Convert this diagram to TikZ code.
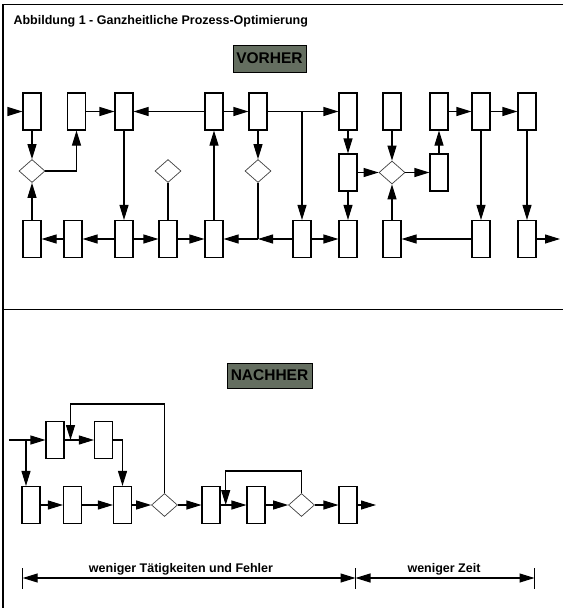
\documentclass[tikz,border=0pt]{standalone}
\usepackage{fontspec}
\setmainfont{Liberation Sans}
\usepackage{xcolor}
\usepackage{tikz}
\usetikzlibrary{arrows.meta,positioning,shapes.geometric}
\definecolor{tafelgrau}{RGB}{100,110,96}

\begin{document}
\begin{tikzpicture}[x=1pt,y=-1pt,
  every node/.style={font=\bfseries\fontsize{12.5}{15}\selectfont},
  box/.style={draw,line width=1.1pt,minimum width=18pt,minimum height=37pt,
              inner sep=0pt,fill=white},
  dec/.style={diamond,draw=black!75,line width=0.7pt,minimum width=26pt,
              minimum height=23pt,inner sep=0pt,fill=white},
  arr/.style={line width=1.1pt,-{Triangle[length=15pt,width=9pt]}},
  lin/.style={line width=1.1pt},
  dim/.style={line width=1.1pt,{Triangle[length=15pt,width=9pt]}-{Triangle[length=15pt,width=9pt]}},
  tafel/.style={draw,fill=tafelgrau,line width=0.9pt,inner sep=0pt,
                font=\bfseries\fontsize{15.5}{17}\selectfont},
]
\useasboundingbox (0,0) rectangle (563,608);
\draw[line width=1.4pt] (563,4.5) -- (3,4.5) -- (3,608);
\draw[line width=1.4pt] (3,309.5) -- (563,309.5);

\node[anchor=base west] (titel) at (10,24.5) {Abbildung 1 - Ganzheitliche Prozess-Optimierung};
\node[tafel,minimum width=73pt,minimum height=27pt] (vorher) at (269.5,58.5) {VORHER};
\node[tafel,minimum width=85pt,minimum height=25pt] (nachher) at (269.5,375.5) {NACHHER};

\node[box] (o1) at (32,111.5) {};
\node[box] (o2) at (76.5,111.5) {};
\node[box] (o3) at (124,111.5) {};
\node[box] (o4) at (214,111.5) {};
\node[box] (o5) at (258,111.5) {};
\node[box] (o6) at (348,111.5) {};
\node[box] (o7) at (392,111.5) {};
\node[box] (o8) at (439,111.5) {};
\node[box] (o9) at (481,111.5) {};
\node[box] (o10) at (527,111.5) {};
\node[box] (m1) at (348,172.5) {};
\node[box] (m2) at (439,172.5) {};
\node[box] (u1) at (32,239) {};
\node[box] (u2) at (73,239) {};
\node[box] (u3) at (124,239) {};
\node[box] (u4) at (168,239) {};
\node[box] (u5) at (214,239) {};
\node[box] (u6) at (302,239) {};
\node[box] (u7) at (348,239) {};
\node[box] (u8) at (392,239) {};
\node[box] (u9) at (481,239) {};
\node[box] (u10) at (527,239) {};
\node[dec] (e1) at (32,171) {};
\node[dec] (e2) at (168,171) {};
\node[dec] (e3) at (258,171) {};
\node[dec] (e4) at (392,172.5) {};
\coordinate (ein1) at (10,111.5);
\coordinate (aus1) at (560,239);
\coordinate (j1) at (258,239);
\coordinate (j2) at (302,111.5);

\draw[arr] (ein1) -- (o1);
\draw[arr] (o1) -- (e1);
\draw[arr] (u1) -- (e1);
\draw[arr] (e1) -| (o2);
\draw[arr] (o2) -- (o3);
\draw[arr] (o4) -- (o3);
\draw[arr] (o3) -- (u3);
\draw[lin] (e2) -- (u4);
\draw[arr] (u3) -- (u2);
\draw[arr] (u2) -- (u1);
\draw[arr] (u3) -- (u4);
\draw[arr] (u4) -- (u5);
\draw[arr] (u5) -- (o4);
\draw[arr] (o4) -- (o5);
\draw[arr] (o5) -- (e3);
\draw[lin] (e3) -- (j1);
\draw[arr] (u6) -- (j1);
\draw[arr] (j1) -- (u5);
\draw[arr] (o5) -- (o6);
\draw[arr] (j2) -- (u6);
\draw[arr] (o6) -- (m1);
\draw[arr] (m1) -- (u7);
\draw[arr] (u6) -- (u7);
\draw[arr] (m1) -- (e4);
\draw[arr] (o7) -- (e4);
\draw[arr] (u8) -- (e4);
\draw[arr] (e4) -- (m2);
\draw[arr] (m2) -- (o8);
\draw[arr] (o8) -- (o9);
\draw[arr] (o9) -- (o10);
\draw[arr] (o9) -- (u9);
\draw[arr] (u9) -- (u8);
\draw[arr] (o10) -- (u10);
\draw[arr] (u10) -- (aus1);

\node[box] (a1) at (55,440) {};
\node[box] (a2) at (103.5,440) {};
\node[box] (b1) at (31,505) {};
\node[box] (b2) at (72.5,505) {};
\node[box] (b3) at (122.5,505) {};
\node[dec] (f1) at (164.5,505) {};
\node[box] (b4) at (211,505) {};
\node[box] (b5) at (256,505) {};
\node[dec] (f2) at (301.5,505) {};
\node[box] (b6) at (348,505) {};
\coordinate (ein2) at (9,440);
\coordinate (s1) at (26,440);
\coordinate (h1) at (70.5,404);
\coordinate (r1) at (70.5,440);
\coordinate (h2) at (225.7,471);
\coordinate (r2) at (225.7,505);
\coordinate (aus2) at (376,505);

\draw[arr] (ein2) -- (a1);
\draw[arr] (s1) -- (s1 |- b1.north);
\draw[arr] (a1) -- (a2);
\draw[arr] (a2) -| (b3);
\draw[arr] (f1) |- (h1) -- (r1);
\draw[arr] (b1) -- (b2);
\draw[arr] (b2) -- (b3);
\draw[arr] (b3) -- (f1);
\draw[arr] (f1) -- (b4);
\draw[arr] (b4) -- (b5);
\draw[arr] (f2) |- (h2) -- (r2);
\draw[arr] (b5) -- (f2);
\draw[arr] (f2) -- (b6);
\draw[arr] (b6) -- (aus2);

\coordinate (k1) at (22.7,578);
\coordinate (k2) at (355.5,578);
\coordinate (k3) at (534.5,578);
\draw[lin] ([yshift=10pt]k1) -- ([yshift=-11pt]k1);
\draw[lin] ([yshift=10pt]k2) -- ([yshift=-11pt]k2);
\draw[lin] ([yshift=10pt]k3) -- ([yshift=-11pt]k3);
\draw[dim] (k1) -- (k2);
\draw[dim] (k2) -- (k3);
\node (weniger1) at (181,569) {weniger Tätigkeiten und Fehler};
\node (weniger2) at (444,569) {weniger Zeit};
\end{tikzpicture}
\end{document}
